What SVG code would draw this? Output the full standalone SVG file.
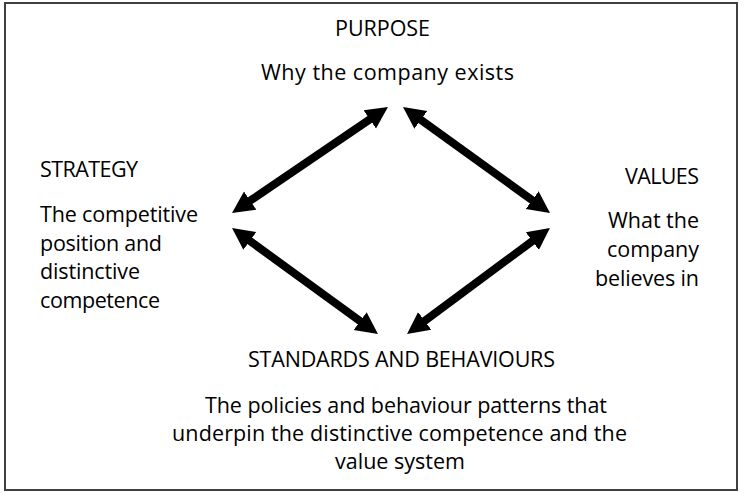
<svg xmlns="http://www.w3.org/2000/svg" width="747" height="495" viewBox="0 0 747 495">
<style>
text{font-family:"Open Sans","Liberation Sans",Arial,sans-serif;font-size:21.5px;fill:#000}
.c{text-anchor:middle}
.r{text-anchor:end}
.arr{stroke:#000;stroke-width:8;fill:none;marker-start:url(#ah);marker-end:url(#ah)}
</style>
<defs>
<marker id="ah" markerUnits="userSpaceOnUse" markerWidth="24" markerHeight="24" viewBox="0 0 24 24" refX="4" refY="12" orient="auto-start-reverse">
<path d="M0,1 L22,12 L0,23 z" fill="#000"/>
</marker>
</defs>
<rect x="5" y="3" width="732" height="487" fill="#fff" stroke="#404040" stroke-width="2"/>
<g id="connectors">
<line class="arr" x1="246.9" y1="202.9" x2="373.1" y2="117.1"/>
<line class="arr" x1="417.6" y1="117.5" x2="535.4" y2="202.5"/>
<line class="arr" x1="246.6" y1="238.6" x2="363.4" y2="323.4"/>
<line class="arr" x1="535.5" y1="238.7" x2="421.5" y2="323.3"/>
</g>
<g id="purpose">
<text class="c" x="382.5" y="36" textLength="95">PURPOSE</text>
<text class="c" x="387.5" y="80" textLength="253">Why the company exists</text>
</g>
<g id="strategy">
<text x="40" y="177" textLength="98">STRATEGY</text>
<text x="40" y="222" textLength="158">The competitive</text>
<text x="40" y="251" textLength="122">position and</text>
<text x="40" y="279" textLength="100">distinctive</text>
<text x="40" y="308" textLength="120">competence</text>
</g>
<g id="values">
<text class="r" x="699" y="184" textLength="74">VALUES</text>
<text class="r" x="699" y="228" textLength="91">What the</text>
<text class="r" x="699" y="257" textLength="92">company</text>
<text class="r" x="699" y="286" textLength="104">believes in</text>
</g>
<g id="standards">
<text class="c" x="401.5" y="367" textLength="307">STANDARDS AND BEHAVIOURS</text>
<text class="c" x="406" y="413" textLength="402">The policies and behaviour patterns that</text>
<text class="c" x="399.5" y="441" textLength="455">underpin the distinctive competence and the</text>
<text class="c" x="400" y="469" textLength="130">value system</text>
</g>
</svg>
